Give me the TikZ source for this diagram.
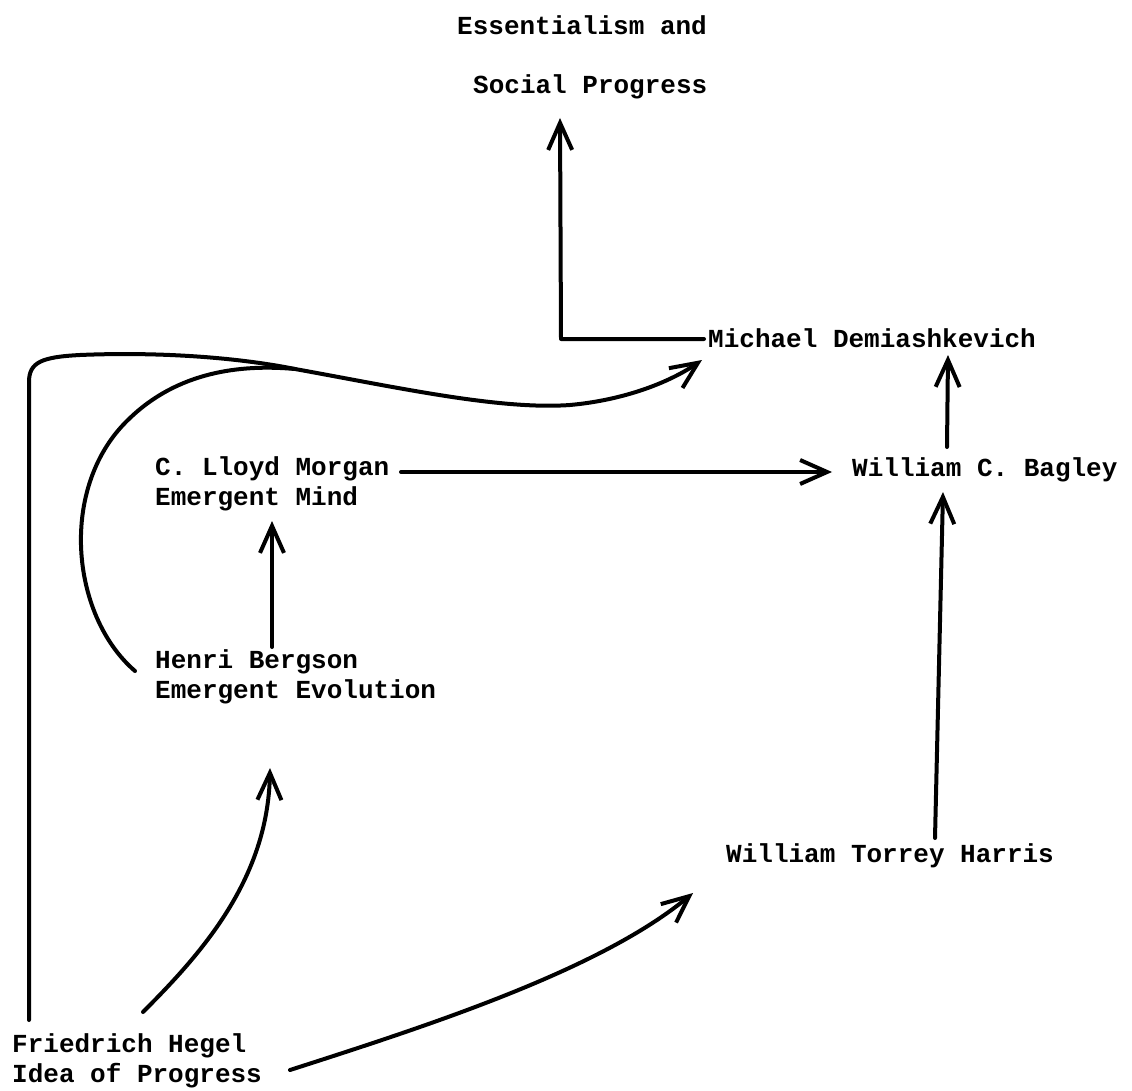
\documentclass[tikz,border=0pt]{standalone}
\usepackage{fontspec}
\newfontfamily\tw{Liberation Mono}
\usetikzlibrary{arrows.meta}
\tikzset{
  lbl/.style={anchor=base west, inner sep=0pt, font=\tw\bfseries\fontsize{26}{30}\selectfont},
  link/.style={line width=4pt, line cap=round, line join=round},
  arr/.style={link, -{Straight Barb[length=27pt,width=24pt,line width=4pt]}}
}
\begin{document}
\begin{tikzpicture}[x=1pt,y=-1pt]
\useasboundingbox (0,0) rectangle (1132,1091);

% labels
\node[lbl] (ess)  at (457,35)   {Essentialism and};
\node[lbl] (soc)  at (473,94)   {Social Progress};
\node[lbl] (dem)  at (708,347)  {Michael Demiashkevich};
\node[lbl] (bag)  at (852,476)  {William C. Bagley};
\node[lbl] (mor)  at (155,475)  {C. Lloyd Morgan};
\node[lbl] (mor2) at (155,505)  {Emergent Mind};
\node[lbl] (ber)  at (155,668)  {Henri Bergson};
\node[lbl] (ber2) at (155,698)  {Emergent Evolution};
\node[lbl] (har)  at (726,862)  {William Torrey Harris};
\node[lbl] (heg)  at (12,1052)  {Friedrich Hegel};
\node[lbl] (heg2) at (12,1082)  {Idea of Progress};

% connector ends
\coordinate (socIn)  at (560,118);
\coordinate (demL)   at (704,339);
\coordinate (demIn)  at (948,355);
\coordinate (demIn2) at (702,360);
\coordinate (bagOut) at (947,447);
\coordinate (bagIn)  at (832,472);
\coordinate (bagIn2) at (943,492);
\coordinate (morOut) at (401,472);
\coordinate (morIn)  at (272,521);
\coordinate (berOut) at (272,647);
\coordinate (berIn)  at (270,768);
\coordinate (berArc) at (135,671);
\coordinate (harOut) at (935,838);
\coordinate (harIn)  at (693,893);
\coordinate (hegUp)  at (29,1020);
\coordinate (hegB)   at (143,1012);
\coordinate (hegH)   at (290,1070);
\coordinate (merge)  at (295,369);

% straight connectors
\draw[arr] (demL) -- (561,339) -- (socIn);
\draw[arr] (bagOut) -- (demIn);
\draw[arr] (morOut) -- (bagIn);
\draw[arr] (berOut) -- (morIn);
\draw[arr] (harOut) -- (bagIn2);

% curved connectors from Hegel
\draw[arr] (hegB) .. controls (200,955) and (268,880) .. (berIn);
\draw[arr] (hegH) .. controls (430,1025) and (600,970) .. (harIn);

% long line from Hegel over the top to Demiashkevich
\draw[arr] (hegUp) -- (29,382)
  .. controls (29,362) and (42,357) .. (80,355)
  .. controls (150,352) and (230,356) .. (merge)
  .. controls (400,388) and (500,410) .. (570,405)
  .. controls (625,400) and (670,382) .. (demIn2);

% arc from Bergson joining the long line
\draw[link] (berArc) .. controls (70,615) and (58,485) .. (130,418)
  .. controls (178,372) and (240,364) .. (merge);
\end{tikzpicture}
\end{document}
